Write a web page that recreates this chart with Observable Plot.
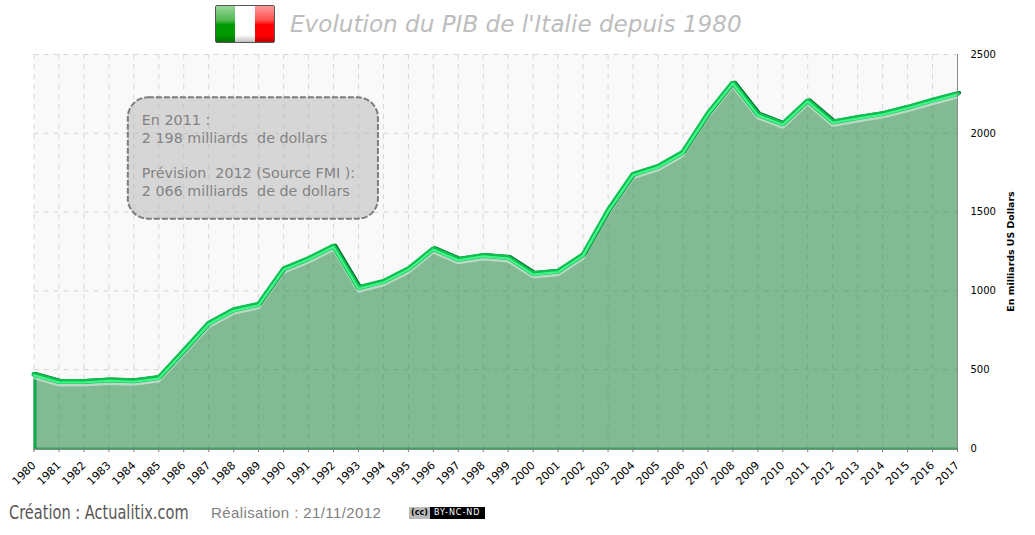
<!DOCTYPE html>
<html><head><meta charset="utf-8">
<script src="https://cdn.jsdelivr.net/npm/d3@7"></script>
<script src="https://cdn.jsdelivr.net/npm/@observablehq/plot@0.6"></script>
<style>
html,body{margin:0;padding:0;background:#fff;width:1035px;height:535px;overflow:hidden}
#wrap{position:relative;width:1035px;height:535px}
#head{position:absolute;left:0;top:0;width:1035px;height:40px}
#flag{position:absolute;left:215px;top:5px;width:58px;height:36px;border:1px solid #555;border-radius:2px;overflow:hidden;
background:linear-gradient(90deg,#009900 0 33.3%,#fff 33.3% 66.6%,#ff0000 66.6% 100%)}
#flag:after{content:"";position:absolute;inset:0;background:linear-gradient(180deg,rgba(255,255,255,.6) 0,rgba(255,255,255,.3) 40%,rgba(255,255,255,0) 52%,rgba(0,0,0,0) 80%,rgba(0,0,0,.25) 100%)}
#title{position:absolute;left:290px;top:11px;font:italic 23.1px "DejaVu Sans";color:#bdbdbd;white-space:nowrap}
#chart{position:absolute;left:0;top:40px}
#foot{position:absolute;left:0;top:495px;width:1035px;height:40px}
#c1{position:absolute;left:9px;top:5px;font:20px "DejaVu Sans Condensed","Liberation Sans Narrow";color:#5a5555;white-space:nowrap;transform:scaleX(.81);transform-origin:left center}
#c2{position:absolute;left:211px;top:9px;font:15px "Liberation Sans";color:#808080;white-space:nowrap;letter-spacing:.4px}
#cc{position:absolute;left:409px;top:12px;width:76px;height:12px;background:#000;color:#fff;font:8px "DejaVu Sans";line-height:12px;white-space:nowrap;overflow:hidden;letter-spacing:1px}
#cc b{display:inline-block;width:21px;height:12px;background:#bbb;color:#000;text-align:center;font-weight:bold;margin-right:4px;vertical-align:top;letter-spacing:0}
</style></head><body>
<div id="wrap">
<div id="head"><div id="flag"></div><div id="title">Evolution du PIB de l'Italie depuis 1980</div></div>
<div id="chart"></div>
<div id="foot"><div id="c1">Création : Actualitix.com</div><div id="c2">Réalisation : 21/11/2012</div><div id="cc"><b>(cc)</b>BY-NC-ND</div></div>
</div>
<script>
const years = d3.range(1980, 2018);
const gdp = [470,425,425,435,430,450,620,795,880,915,1140,1205,1285,1020,1060,1140,1268,1200,1225,1212,1110,1125,1230,1510,1740,1790,1880,2125,2322,2120,2060,2208,2072,2100,2125,2165,2210,2252];
const yTicks = [0,500,1000,1500,2000,2500];
const noteLines = ["En 2011 :","2 198 milliards  de dollars","","Prévision  2012 (Source FMI ):","2 066 milliards  de de dollars"];
const noteBox = {x1:1983.78, x2:1993.8, y1:2225, y2:1455};
const noteAnchor = {x:1984.32, y:2130};
const table = years.map((year,i)=>({year,gdp:gdp[i]}));
const sharedLine = {x:"year", y:"gdp"};

const plot = Plot.plot({
  width:1035, height:455,
  marginLeft:33.5, marginRight:78, marginTop:14, marginBottom:47,
  style:{background:"transparent", fontFamily:"DejaVu Sans", overflow:"visible"},
  x:{domain:[1980,2017]},
  y:{domain:[0,2500]},
  marks:[
    Plot.frame({fill:"#f9f9f9", stroke:null}),
    Plot.ruleX(years,{x:d=>d, stroke:"#d6d6d6", strokeDasharray:"5,5"}),
    Plot.ruleY(yTicks,{y:d=>d, stroke:"#d6d6d6", strokeDasharray:"5,5"}),
    Plot.areaY(table,{...sharedLine, fill:"#0b7b2f", fillOpacity:.5}),
    Plot.ruleY([0],{stroke:"#35a85a", strokeWidth:2}),
    Plot.ruleX([1980],{y1:0, y2:gdp[0], stroke:"#0fa84a", strokeWidth:3, dx:1}),
    // bevelled ridge of the curve
    Plot.lineY(table,{...sharedLine, stroke:"#fff", strokeOpacity:.45, strokeWidth:3, dy:3.5, strokeLinejoin:"miter"}),
    Plot.lineY(table,{...sharedLine, stroke:"#04692c", strokeWidth:3.5, dx:1.8, dy:-.8, strokeLinejoin:"miter"}),
    Plot.lineY(table,{...sharedLine, stroke:"#0dc04f", strokeWidth:5, strokeLinejoin:"miter"}),
    Plot.lineY(table,{...sharedLine, stroke:"#45f58c", strokeWidth:2.2, dy:1, strokeLinejoin:"miter"}),
    // note
    Plot.rect([noteBox],{x1:"x1", x2:"x2", y1:"y1", y2:"y2", rx:20, fill:"#b4b4b4", fillOpacity:.5, stroke:"#7d7d7d", strokeWidth:2, strokeDasharray:"6,2"}),
    Plot.text([noteLines.join("\n")],{x:noteAnchor.x, y:noteAnchor.y, text:d=>d, textAnchor:"start", lineAnchor:"top", fontSize:14.3, lineHeight:1.235, fill:"#838383"}),
    // axes
    Plot.axisX({ticks:years, tickFormat:"d", tickRotate:-45, tickSize:4, stroke:"#777", fontSize:11, fill:"#000", label:null, tickPadding:11}),
    Plot.ruleY([0],{stroke:"#888", dy:1}),
    Plot.ruleX([2017],{stroke:"#888"}),
    Plot.axisY({anchor:"right", ticks:yTicks, tickSize:0, tickPadding:13, fontSize:10, fill:"#000", label:null, tickFormat:d=>String(d)}),
    Plot.text(["En milliards US Dollars"],{frameAnchor:"right", dx:53, rotate:-90, textAnchor:"middle", text:d=>d, fontSize:9.4, fontWeight:"bold", fill:"#000"})
  ]
});
document.getElementById("chart").appendChild(plot);
</script>
</body></html>
